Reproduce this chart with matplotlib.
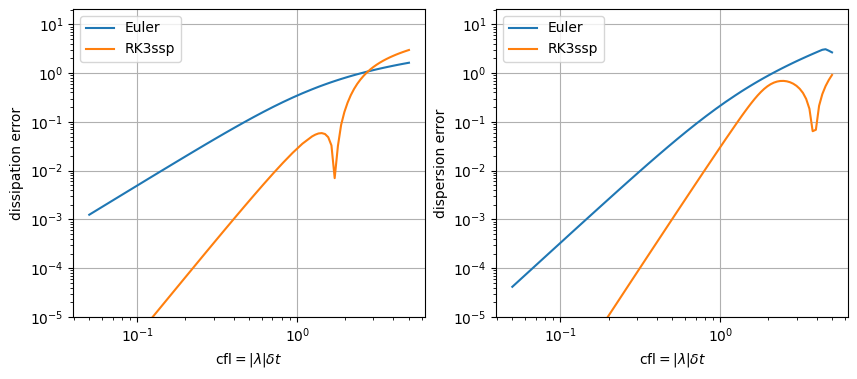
import matplotlib
matplotlib.use("Agg")
import matplotlib.pyplot as plt

# cfl sample points (log spaced, denser near the dips)
cfl = [0.05, 0.05749, 0.0661, 0.076, 0.08738, 0.1005, 0.1155, 0.1328, 0.1527, 0.1756,
       0.2019, 0.2321, 0.2668, 0.3068, 0.3527, 0.4056, 0.4663, 0.5361, 0.6164, 0.7087,
       0.8149, 0.9369, 1.077, 1.239, 1.298, 1.359, 1.424, 1.492, 1.563, 1.637,
       1.715, 1.797, 1.882, 1.972, 2.066, 2.164, 2.267, 2.375, 2.489, 2.607,
       2.731, 2.861, 2.997, 3.14, 3.29, 3.446, 3.611, 3.783, 3.963, 4.151,
       4.349, 4.556, 4.773, 5.0]

diss_euler = [0.001248, 0.00165, 0.00218, 0.002879, 0.003803, 0.005021, 0.006627, 0.008742, 0.01152, 0.01518,
              0.01997, 0.02623, 0.03439, 0.04498, 0.05864, 0.07614, 0.09837, 0.1263, 0.161, 0.2035,
              0.2546, 0.315, 0.3851, 0.4649, 0.4936, 0.5233, 0.5539, 0.5855, 0.6181, 0.6515,
              0.6858, 0.721, 0.7569, 0.7935, 0.8309, 0.8689, 0.9075, 0.9467, 0.9865, 1.027,
              1.068, 1.109, 1.151, 1.193, 1.235, 1.278, 1.321, 1.364, 1.408, 1.452,
              1.496, 1.54, 1.584, 1.629]

diss_rk3 = [2.602e-07, 4.546e-07, 7.941e-07, 1.387e-06, 2.422e-06, 4.23e-06, 7.384e-06, 1.288e-05, 2.247e-05, 3.918e-05,
            6.823e-05, 0.0001187, 0.0002063, 0.0003577, 0.0006187, 0.001067, 0.001831, 0.003122, 0.005282, 0.00883,
            0.01451, 0.02324, 0.03564, 0.05037, 0.05471, 0.05786, 0.05885, 0.05633, 0.04847, 0.03293,
            0.007018, 0.03209, 0.08683, 0.1587, 0.2479, 0.3532, 0.4724, 0.6025, 0.7409, 0.885,
            1.033, 1.183, 1.334, 1.486, 1.638, 1.789, 1.939, 2.089, 2.238, 2.387,
            2.535, 2.682, 2.828, 2.974]

disp_euler = [4.16e-05, 6.32e-05, 9.6e-05, 0.0001458, 0.0002213, 0.0003359, 0.0005096, 0.0007726, 0.00117, 0.001771,
              0.002676, 0.004037, 0.006075, 0.009116, 0.01363, 0.02027, 0.02997, 0.044, 0.06402, 0.09217,
              0.1311, 0.1841, 0.2547, 0.347, 0.3833, 0.4228, 0.4654, 0.5116, 0.5613, 0.6148,
              0.6723, 0.7339, 0.8, 0.8706, 0.946, 1.026, 1.112, 1.203, 1.3, 1.402,
              1.511, 1.627, 1.749, 1.878, 2.014, 2.158, 2.31, 2.47, 2.639, 2.817,
              3.004, 3.082, 2.875, 2.657]

disp_rk3 = [1.041e-08, 2.092e-08, 4.203e-08, 8.443e-08, 1.696e-07, 3.407e-07, 6.843e-07, 1.374e-06, 2.759e-06, 5.539e-06,
            1.112e-05, 2.23e-05, 4.472e-05, 8.962e-05, 0.0001795, 0.000359, 0.0007173, 0.001431, 0.002849, 0.005661,
            0.01122, 0.02214, 0.0435, 0.08469, 0.1054, 0.1307, 0.1615, 0.1986, 0.2423, 0.2929,
            0.3498, 0.4112, 0.4745, 0.536, 0.5916, 0.6374, 0.6704, 0.6886, 0.6912, 0.6779,
            0.6491, 0.6055, 0.5477, 0.4763, 0.3919, 0.2949, 0.1856, 0.06433, 0.0689, 0.214,
            0.3711, 0.5403, 0.7218, 0.9158]

fig, axs = plt.subplots(1, 2, figsize=(8.57, 3.79), dpi=100)
fig.subplots_adjust(left=0.0855, right=0.9895, bottom=0.1636, top=0.9763, wspace=0.203)

panels = [(diss_euler, diss_rk3, "dissipation error"),
          (disp_euler, disp_rk3, "dispersion error")]
for ax, (eu, rk, name) in zip(axs, panels):
    ax.loglog(cfl, eu, label="Euler")
    ax.loglog(cfl, rk, label="RK3ssp")
    ax.set_ylim(1e-5, 20.6)
    ax.set_xlabel(r"cfl$=|\lambda|\delta t$")
    ax.set_ylabel(name)
    ax.grid(True)
    ax.legend(loc="upper left")

fig.savefig("out.png")
